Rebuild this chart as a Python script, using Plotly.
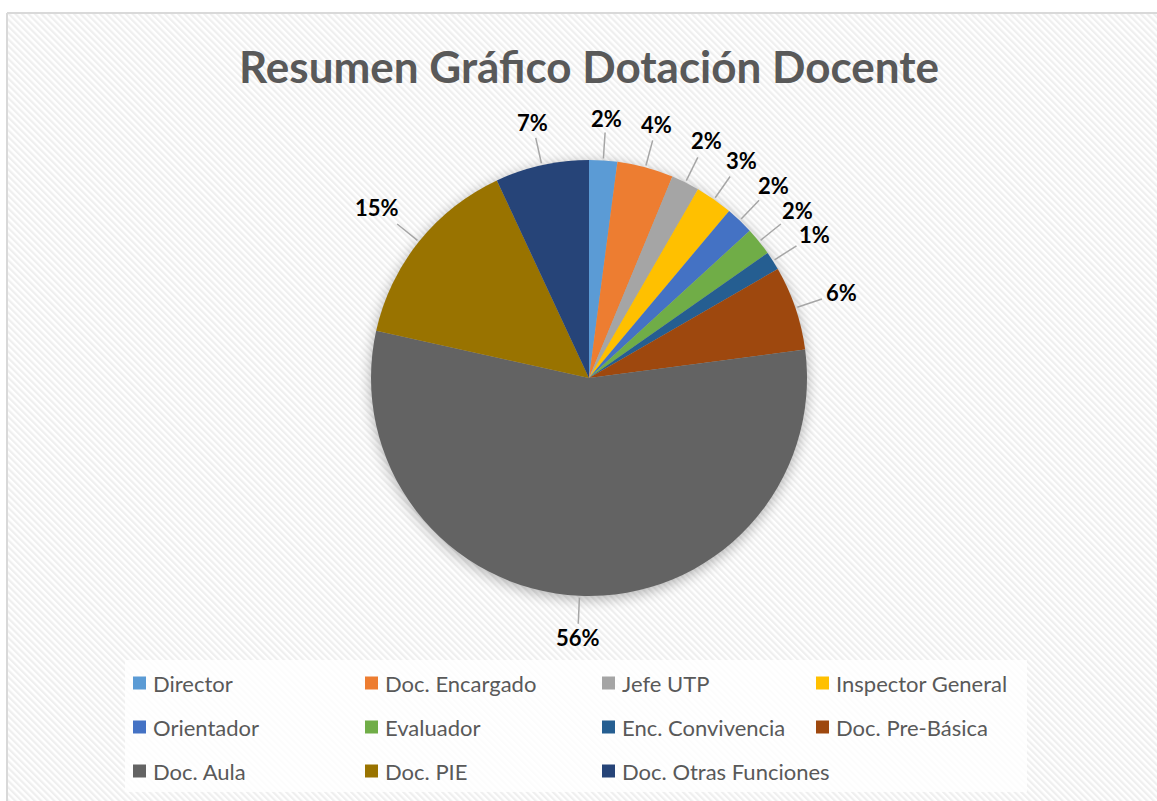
import base64
import numpy as np
import plotly.graph_objects as go

# ---------------- data ----------------
categories = ["Director", "Doc. Encargado", "Jefe UTP", "Inspector General",
              "Orientador", "Evaluador", "Enc. Convivencia", "Doc. Pre-Básica",
              "Doc. Aula", "Doc. PIE", "Doc. Otras Funciones"]
counts = [3, 6, 3, 4, 3, 3, 2, 9, 80, 21, 10]
colors = ["#5b9bd5", "#ed7d31", "#a5a5a5", "#ffc000", "#4472c4", "#70ad47",
          "#255e91", "#9e480e", "#636363", "#997300", "#264478"]
title_text = "Resumen Gráfico Dotación Docente"

# ---------------- geometry ----------------
W, H = 1157, 801
CX, CY, R = 589, 378, 218

def px(x):
    return x / W

def py(y):
    return 1 - y / H

# background: hatched chart area, pie shadow, legend box
svg = f'''<svg xmlns="http://www.w3.org/2000/svg" width="{W}" height="{H}" viewBox="0 0 {W} {H}">
<defs>
<pattern id="p" patternUnits="userSpaceOnUse" width="4.6" height="4.6" patternTransform="rotate(-45)">
<rect x="0" y="0" width="4.6" height="4.6" fill="#ffffff"/>
<rect x="0" y="0" width="2.2" height="4.6" fill="#efefef"/>
</pattern>
<filter id="b" x="-50%" y="-50%" width="200%" height="200%"><feGaussianBlur stdDeviation="7"/></filter>
</defs>
<rect x="0" y="0" width="{W}" height="{H}" fill="#ffffff"/>
<rect x="7" y="13" width="{W+40}" height="{H+40}" fill="url(#p)"/>
<line x1="7" y1="13" x2="7" y2="{H}" stroke="#d9d9d9" stroke-width="2"/>
<line x1="7" y1="13" x2="{W}" y2="13" stroke="#d9d9d9" stroke-width="2"/>
<circle cx="{CX}" cy="{CY+3}" r="{R}" fill="#000000" opacity="0.30" filter="url(#b)"/>
<rect x="125" y="660" width="902" height="132" fill="#ffffff" opacity="0.82"/>
</svg>'''
src = "data:image/svg+xml;base64," + base64.b64encode(svg.encode("utf-8")).decode("ascii")

fig = go.Figure()
fig.add_trace(go.Pie(
    labels=categories, values=counts, sort=False, direction="clockwise", rotation=0,
    marker=dict(colors=colors, line=dict(width=0)),
    textinfo="none", hoverinfo="label+percent", showlegend=False,
    domain=dict(x=[px(CX - R), px(CX + R)], y=[py(CY + R), py(CY - R)]),
))

annotations = []
shapes = []

# title
annotations.append(dict(text=f"<b>{title_text}</b>", x=px(CX), y=py(66), xref="paper", yref="paper",
                        xanchor="center", yanchor="middle", showarrow=False,
                        font=dict(family="Lato", size=44, color="#595959")))

# data labels (percentages computed from values)
vals = np.array(counts, dtype=float)
frac = vals / vals.sum()
cum = np.cumsum(frac)
mid = (cum - frac / 2) * 2 * np.pi
R0 = 249
for f, a in zip(frac, mid):
    txt = f"{f*100:.0f}%"
    w = 21 if len(txt) > 2 else 15
    h = 10
    s, c = np.sin(a), np.cos(a)
    rr = R0 + abs(s) * w + abs(c) * h
    lx, ly = CX + rr * s, CY - rr * c
    annotations.append(dict(text=f"<b>{txt}</b>", x=px(lx), y=py(ly), xref="paper", yref="paper",
                            xanchor="center", yanchor="middle", showarrow=False,
                            font=dict(family="Lato", size=22, color="#000000")))
    x0, y0 = CX + (R + 2) * s, CY - (R + 2) * c
    x1, y1 = CX + (R0 - 3) * s, CY - (R0 - 3) * c
    shapes.append(dict(type="line", xref="paper", yref="paper", x0=px(x0), y0=py(y0),
                       x1=px(x1), y1=py(y1), line=dict(color="#a6a6a6", width=1.5)))

# legend (built from categories/colors)
col_x = [133, 365, 602, 816]
row_y = [683, 727, 771]
for i, (name, col) in enumerate(zip(categories, colors)):
    r_, c_ = divmod(i, 4)
    mx, my = col_x[c_], row_y[r_]
    shapes.append(dict(type="rect", xref="paper", yref="paper", x0=px(mx), x1=px(mx + 13),
                       y0=py(my + 6.5), y1=py(my - 6.5), fillcolor=col, line=dict(width=0)))
    annotations.append(dict(text=name, x=px(mx + 18), y=py(my), xref="paper", yref="paper",
                            xanchor="left", yanchor="middle", showarrow=False,
                            font=dict(family="Lato", size=22, color="#595959")))

fig.update_layout(
    width=W, height=H, autosize=False,
    margin=dict(l=0, r=0, t=0, b=0, pad=0),
    paper_bgcolor="rgba(0,0,0,0)", plot_bgcolor="rgba(0,0,0,0)",
    images=[dict(source=src, xref="paper", yref="paper", x=0, y=1, sizex=1, sizey=1,
                 xanchor="left", yanchor="top", sizing="stretch", layer="below")],
    annotations=annotations, shapes=shapes,
)

fig.write_html("out.html", config={"displayModeBar": False},
               post_script="document.body.style.margin='0';document.body.style.overflow='hidden';")
